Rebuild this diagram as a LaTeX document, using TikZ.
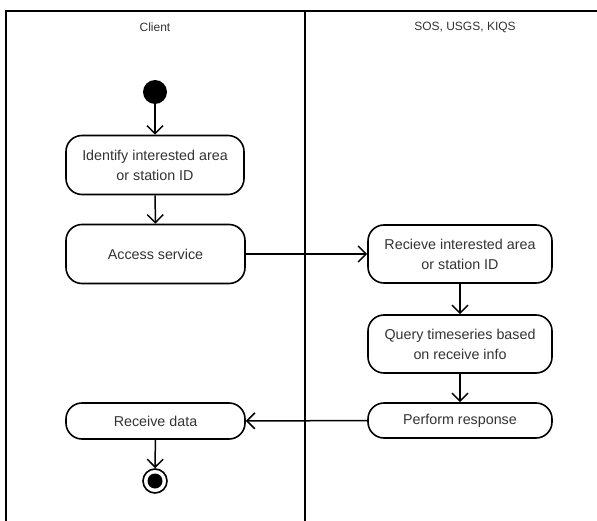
\documentclass[tikz,border=0pt]{standalone}
\usepackage{fontspec}
\setmainfont{Liberation Sans}
\usetikzlibrary{arrows.meta}
\definecolor{txt}{HTML}{333333}
\tikzset{
  activity/.style={draw=black, line width=1.6bp, rounded corners=16bp, fill=white,
    inner sep=0pt, text=txt, align=center,
    font=\fontsize{14.3bp}{20bp}\selectfont},
  flow/.style={draw=black, line width=1.5bp, -{Straight Barb[length=8bp,width=16bp,line width=1.5bp]}},
  lane/.style={draw=black, line width=2bp},
  lanetitle/.style={text=txt, font=\fontsize{12bp}{14bp}\selectfont}
}
\begin{document}
\begin{tikzpicture}[x=1bp, y=-1bp]
  \useasboundingbox (0,0) rectangle (597,521);
  % swimlanes
  \draw[lane] (6,521) -- (6,11) -- (597,11);
  \draw[lane] (305,11) -- (305,521);
  \node[lanetitle] (clientlane) at (155,27) {Client};
  \node[lanetitle] (servlane) at (465,27) {SOS, USGS, KIQS};
  % initial and final nodes
  \node[circle, fill=black, minimum size=24bp, inner sep=0pt] (start) at (155,92) {};
  \node[activity, minimum width=178bp, minimum height=59bp] (identify) at (155,165) {Identify interested area\\or station ID};
  \node[activity, minimum width=179bp, minimum height=59bp] (access) at (155.5,254) {Access service};
  \node[activity, minimum width=184bp, minimum height=58bp] (recv) at (460,254) {Recieve interested area\\or station ID};
  \node[activity, minimum width=184bp, minimum height=58bp] (query) at (460,344) {Query timeseries based\\on receive info};
  \node[activity, minimum width=184bp, minimum height=35bp] (perform) at (460,420.5) {Perform response};
  \node[activity, minimum width=179bp, minimum height=36bp] (rdata) at (155.5,421) {Receive data};
  \node[circle, draw=black, line width=1.6bp, minimum size=24bp, inner sep=0pt] (final) at (155,481) {};
  \node[circle, fill=black, minimum size=15bp, inner sep=0pt] (finaldot) at (155,481) {};
  % control flows
  \draw[flow] (start) -- (identify);
  \draw[flow] (identify) -- (access);
  \draw[flow] (access) -- (recv);
  \draw[flow] (recv) -- (query);
  \draw[flow] (query) -- (perform);
  \draw[flow] (perform) -- (rdata);
  \draw[flow] (rdata) -- (final);
\end{tikzpicture}
\end{document}
